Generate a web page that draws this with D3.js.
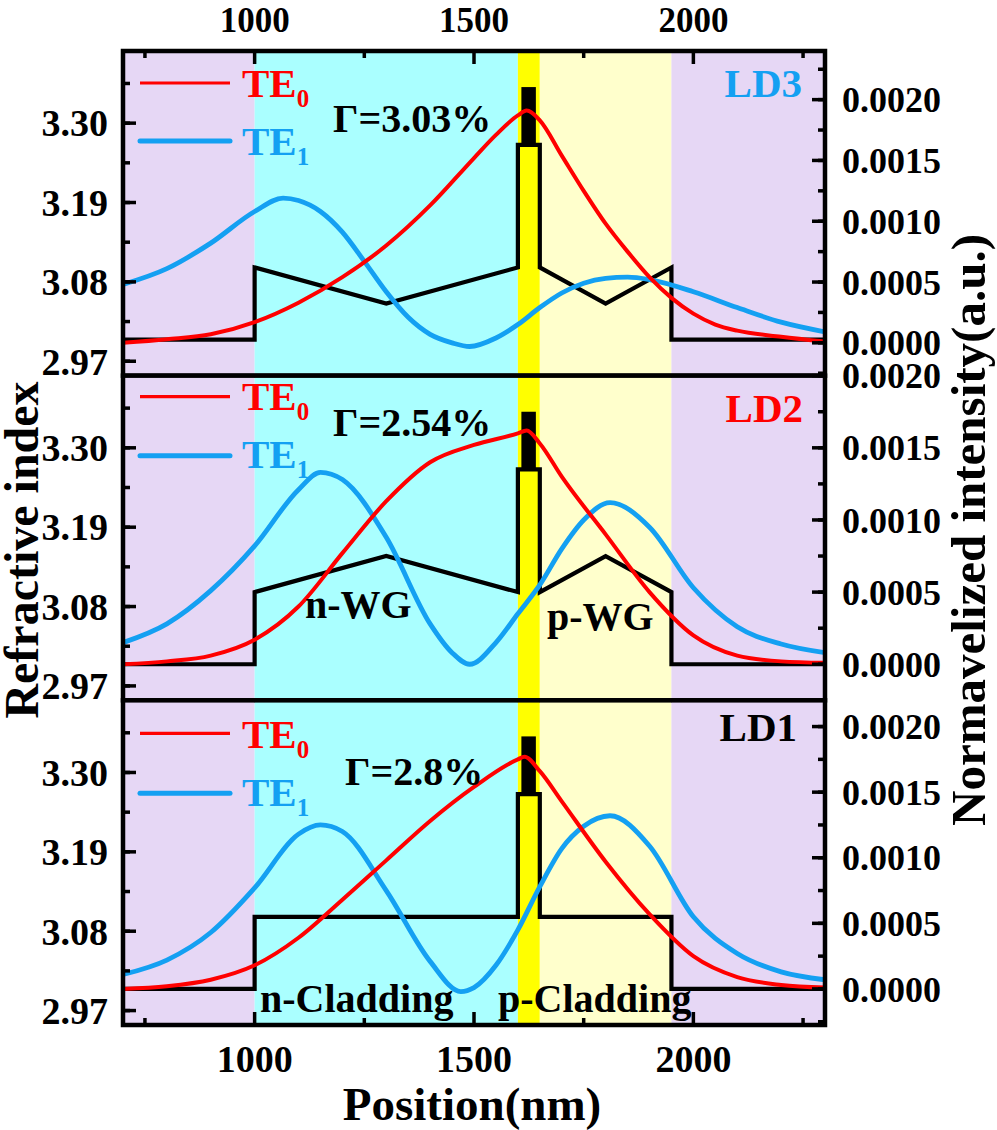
<!DOCTYPE html>
<html>
<head>
<meta charset="utf-8">
<script src="https://cdn.jsdelivr.net/npm/d3@7"></script>
<style>
  body { margin: 0; background: #fff; }
  text { font-family: "Liberation Serif", "Times New Roman", serif; font-weight: bold; }
</style>
</head>
<body>
<div id="chart"></div>
<script>
// ---- data ----
var positionTicks = [1000, 1500, 2000];
var indexTicks = [2.97, 3.08, 3.19, 3.30];
var intensityTicks = [0, 0.0005, 0.0010, 0.0015, 0.0020];
var panelNames = ["LD3", "LD2", "LD1"];
var gammaLabels = ["\u0393=3.03%", "\u0393=2.54%", "\u0393=2.8%"];
var layerBounds = [700, 1000, 1600, 1650, 1950, 2300];   // n-clad | n-WG | active | p-WG | p-clad
var qwRange = [1608, 1641];
var qwIndex = 3.35, barrierIndex = 3.27;
var intensityTop = [0.0024, 0.0020, 0.0022];
var intensityBottom = [-0.00027, -0.00025, -0.000275];

var indexLD3 = [[700,3.00],[1000,3.00],[1000,3.10],[1300,3.05],[1600,3.10],[1600,3.27],[1650,3.27],[1650,3.10],[1800,3.05],[1950,3.10],[1950,3.00],[2300,3.00]];
var indexLD2 = [[700,3.00],[1000,3.00],[1000,3.10],[1300,3.15],[1600,3.10],[1600,3.27],[1650,3.27],[1650,3.10],[1800,3.15],[1950,3.10],[1950,3.00],[2300,3.00]];
var indexLD1 = [[700,3.00],[1000,3.00],[1000,3.10],[1600,3.10],[1600,3.27],[1650,3.27],[1650,3.10],[1950,3.10],[1950,3.00],[2300,3.00]];

var te0LD3 = [[700,0.00000],[800,0.00003],[900,0.00007],[1000,0.00017],[1100,0.00033],[1200,0.00054],[1300,0.00080],[1400,0.00113],[1500,0.00152],[1550,0.00171],[1600,0.00187],[1620,0.00191],[1650,0.00183],[1700,0.00154],[1750,0.00125],[1800,0.00098],[1850,0.00075],[1900,0.00054],[1950,0.00037],[2000,0.00024],[2050,0.00015],[2100,0.00010],[2200,0.00005],[2300,0.00001]];
var te1LD3 = [[700,0.00048],[800,0.00061],[900,0.00082],[1000,0.00108],[1065,0.00119],[1100,0.00117],[1150,0.00108],[1200,0.00091],[1250,0.00067],[1300,0.00042],[1350,0.00021],[1400,0.00007],[1450,0.00000],[1490,-0.00003],[1550,0.00004],[1600,0.00015],[1650,0.00029],[1700,0.00041],[1750,0.00049],[1800,0.00053],[1850,0.00054],[1900,0.00052],[2000,0.00042],[2100,0.00029],[2200,0.00017],[2300,0.00009]];

var te0LD2 = [[700,0.00000],[800,0.00002],[900,0.00006],[1000,0.00017],[1100,0.00040],[1200,0.00077],[1300,0.00113],[1400,0.00140],[1500,0.00152],[1600,0.00160],[1620,0.00162],[1650,0.00153],[1700,0.00130],[1800,0.00090],[1900,0.00050],[2000,0.00020],[2100,0.00006],[2200,0.00002],[2300,0.00001]];
var te1LD2 = [[700,0.00015],[800,0.00028],[900,0.00051],[1000,0.00082],[1100,0.00121],[1150,0.00133],[1200,0.00128],[1300,0.00088],[1400,0.00028],[1450,0.00008],[1490,0.00000],[1550,0.00015],[1600,0.00035],[1650,0.00055],[1700,0.00080],[1750,0.00100],[1810,0.00112],[1900,0.00095],[2000,0.00053],[2100,0.00026],[2200,0.00014],[2300,0.00008]];

var te0LD1 = [[700,0.00000],[800,0.00002],[900,0.00007],[1000,0.00018],[1100,0.00039],[1200,0.00068],[1300,0.00098],[1400,0.00128],[1500,0.00154],[1600,0.00175],[1615,0.00177],[1650,0.00166],[1700,0.00143],[1800,0.00097],[1900,0.00057],[2000,0.00025],[2100,0.00009],[2200,0.00003],[2300,0.00001]];
var te1LD1 = [[700,0.00011],[800,0.00022],[900,0.00043],[1000,0.00077],[1100,0.00118],[1150,0.00125],[1200,0.00120],[1300,0.00075],[1400,0.00021],[1470,-0.00002],[1500,0.00001],[1550,0.00018],[1600,0.00045],[1650,0.00078],[1700,0.00107],[1750,0.00124],[1810,0.00132],[1900,0.00109],[2000,0.00055],[2100,0.00027],[2200,0.00013],[2300,0.00007]];

var indexProfiles = [indexLD3, indexLD2, indexLD1];
var te0Modes = [te0LD3, te0LD2, te0LD1];
var te1Modes = [te1LD3, te1LD2, te1LD1];

// ---- styles / layout ----
var layerColors = ["#e6d7f5", "#aaffff", "#ffff00", "#ffffcc", "#e6d7f5"];
var red = "#ff0000", blue = "#14a0f2";
var nameColors = [blue, red, "#000"];
// per panel annotation offsets (from panel top)
var notes = [
  {leg0: 32, leg1: 90, t0: 46, t1: 104, gx: 333, gy: 81, ly: 46, lx: 802},
  {leg0: 21, leg1: 80, t0: 34, t1: 92, gx: 333, gy: 60, ly: 46, lx: 803},
  {leg0: 33, leg1: 93, t0: 48, t1: 106, gx: 345, gy: 85, ly: 41, lx: 797}
];

var width = 997, height = 1130;
var left = 123, right = 825, top0 = 51, bottom = 1025;
var panelH = (bottom - top0) / 3;

var svg = d3.select("#chart").append("svg")
  .attr("width", width)
  .attr("height", height);

var x = d3.scaleLinear().domain([700, 2300]).range([left, right]);

var defs = svg.append("defs");

panelNames.forEach(function(name, i) {
  var pt = top0 + i * panelH, pb = pt + panelH;
  var yn = d3.scaleLinear().domain([2.95, 3.40]).range([pb, pt]);
  var yi = d3.scaleLinear().domain([intensityBottom[i], intensityTop[i]]).range([pb, pt]);

  defs.append("clipPath").attr("id", "clip" + i)
    .append("rect").attr("x", left).attr("y", pt).attr("width", right - left).attr("height", panelH);

  var g = svg.append("g");
  var plot = g.append("g").attr("clip-path", "url(#clip" + i + ")");

  // layer backgrounds
  plot.selectAll(".layer")
    .data(d3.range(layerBounds.length - 1))
    .enter().append("rect")
    .attr("x", function(k) { return x(layerBounds[k]); })
    .attr("width", function(k) { return x(layerBounds[k + 1]) - x(layerBounds[k]); })
    .attr("y", pt).attr("height", panelH)
    .attr("fill", function(k) { return layerColors[k]; });

  // refractive index profile
  var nline = d3.line().x(function(d) { return x(d[0]); }).y(function(d) { return yn(d[1]); });
  plot.append("path")
    .attr("d", nline(indexProfiles[i]))
    .attr("fill", "none").attr("stroke", "#000").attr("stroke-width", 4.2)
    .attr("stroke-linejoin", "miter");
  plot.append("rect")
    .attr("x", x(qwRange[0])).attr("width", x(qwRange[1]) - x(qwRange[0]))
    .attr("y", yn(qwIndex)).attr("height", yn(barrierIndex) - yn(qwIndex))
    .attr("fill", "#000");

  // modes
  var mline = d3.line().curve(d3.curveMonotoneX)
    .x(function(d) { return x(d[0]); }).y(function(d) { return yi(d[1]); });
  plot.append("path").attr("d", mline(te1Modes[i]))
    .attr("fill", "none").attr("stroke", blue).attr("stroke-width", 4.8);
  plot.append("path").attr("d", mline(te0Modes[i]))
    .attr("fill", "none").attr("stroke", red).attr("stroke-width", 4);

  // left ticks
  var minorN = d3.range(2.915, 3.40, 0.055).filter(function(v) { return v > 2.95 && v < 3.40; });
  g.selectAll(".nminor").data(minorN).enter().append("line")
    .attr("x1", left).attr("x2", left + 7)
    .attr("y1", function(d) { return yn(d); }).attr("y2", function(d) { return yn(d); })
    .attr("stroke", "#000").attr("stroke-width", 3.5);
  g.selectAll(".nmajor").data(indexTicks).enter().append("line")
    .attr("x1", left).attr("x2", left + 13)
    .attr("y1", function(d) { return yn(d); }).attr("y2", function(d) { return yn(d); })
    .attr("stroke", "#000").attr("stroke-width", 3.5);
  g.selectAll(".nlab").data(indexTicks).enter().append("text")
    .attr("x", 108).attr("y", function(d) { return yn(d); }).attr("dy", "0.35em")
    .attr("text-anchor", "end").attr("font-size", "38px")
    .text(function(d) { return d.toFixed(2); });

  // right ticks
  var minorI = d3.range(-0.00025, intensityTop[i] + 1e-9, 0.00025).filter(function(v) {
    return v > intensityBottom[i] && v <= intensityTop[i] + 1e-9;
  });
  g.selectAll(".iminor").data(minorI).enter().append("line")
    .attr("x1", right - 7).attr("x2", right)
    .attr("y1", function(d) { return yi(d); }).attr("y2", function(d) { return yi(d); })
    .attr("stroke", "#000").attr("stroke-width", 3.5);
  g.selectAll(".imajor").data(intensityTicks).enter().append("line")
    .attr("x1", right - 13).attr("x2", right)
    .attr("y1", function(d) { return yi(d); }).attr("y2", function(d) { return yi(d); })
    .attr("stroke", "#000").attr("stroke-width", 3.5);
  g.selectAll(".ilab").data(intensityTicks).enter().append("text")
    .attr("x", 842).attr("y", function(d) { return yi(d); }).attr("dy", "0.35em")
    .attr("font-size", "36px")
    .text(function(d) { return d.toFixed(4); });

  // legend
  var n = notes[i];
  g.append("line").attr("x1", 140).attr("x2", 230).attr("y1", pt + n.leg0).attr("y2", pt + n.leg0)
    .attr("stroke", red).attr("stroke-width", 3.2);
  g.append("line").attr("x1", 140).attr("x2", 230).attr("y1", pt + n.leg1).attr("y2", pt + n.leg1)
    .attr("stroke", blue).attr("stroke-width", 5).attr("stroke-linecap", "round");
  var t0 = g.append("text").attr("x", 242).attr("y", pt + n.t0).attr("font-size", "41px").attr("fill", red);
  t0.append("tspan").text("TE");
  t0.append("tspan").attr("font-size", "25px").attr("dy", 10).text("0");
  var t1 = g.append("text").attr("x", 242).attr("y", pt + n.t1).attr("font-size", "41px").attr("fill", blue);
  t1.append("tspan").text("TE");
  t1.append("tspan").attr("font-size", "25px").attr("dy", 10).text("1");

  g.append("text").attr("x", n.gx).attr("y", pt + n.gy).attr("font-size", "40px").text(gammaLabels[i]);
  g.append("text").attr("x", n.lx).attr("y", pt + n.ly).attr("font-size", "41px")
    .attr("text-anchor", "end").attr("fill", nameColors[i]).text(name);

  // frame
  g.append("rect").attr("x", left).attr("y", pt).attr("width", right - left).attr("height", panelH)
    .attr("fill", "none").attr("stroke", "#000").attr("stroke-width", 4.5);
});

// layer labels
svg.append("text").attr("x", 305).attr("y", 618).attr("font-size", "40px").text("n-WG");
svg.append("text").attr("x", 547).attr("y", 630).attr("font-size", "40px").text("p-WG");
svg.append("text").attr("x", 260).attr("y", 1012).attr("font-size", "40px").text("n-Cladding");
svg.append("text").attr("x", 498).attr("y", 1012).attr("font-size", "40px").text("p-Cladding");

// x axes: top of first panel and bottom of last panel
var minorX = [750, 1250, 1750, 2250];
[[top0, 1], [bottom, -1]].forEach(function(a) {
  var y0 = a[0], dir = a[1];
  svg.selectAll(null).data(minorX).enter().append("line")
    .attr("x1", function(d) { return x(d); }).attr("x2", function(d) { return x(d); })
    .attr("y1", y0).attr("y2", y0 + dir * 7)
    .attr("stroke", "#000").attr("stroke-width", 3.5);
  svg.selectAll(null).data(positionTicks).enter().append("line")
    .attr("x1", function(d) { return x(d); }).attr("x2", function(d) { return x(d); })
    .attr("y1", y0).attr("y2", y0 + dir * 13)
    .attr("stroke", "#000").attr("stroke-width", 3.5);
});
svg.selectAll(".xtop").data(positionTicks).enter().append("text")
  .attr("x", function(d) { return x(d); }).attr("y", 32)
  .attr("text-anchor", "middle").attr("font-size", "35px").text(function(d) { return d; });
svg.selectAll(".xbot").data(positionTicks).enter().append("text")
  .attr("x", function(d) { return x(d); }).attr("y", 1072)
  .attr("text-anchor", "middle").attr("font-size", "38px").text(function(d) { return d; });

// axis titles
svg.append("text").attr("x", 472).attr("y", 1120).attr("text-anchor", "middle")
  .attr("font-size", "47px").text("Position(nm)");
svg.append("text").attr("transform", "translate(38,550) rotate(-90)")
  .attr("text-anchor", "middle").attr("font-size", "48px").text("Refractive index");
svg.append("text").attr("transform", "translate(985,530) rotate(-90)")
  .attr("text-anchor", "middle").attr("font-size", "49px").text("Normavelized intensity(a.u.)");
</script>
</body>
</html>
